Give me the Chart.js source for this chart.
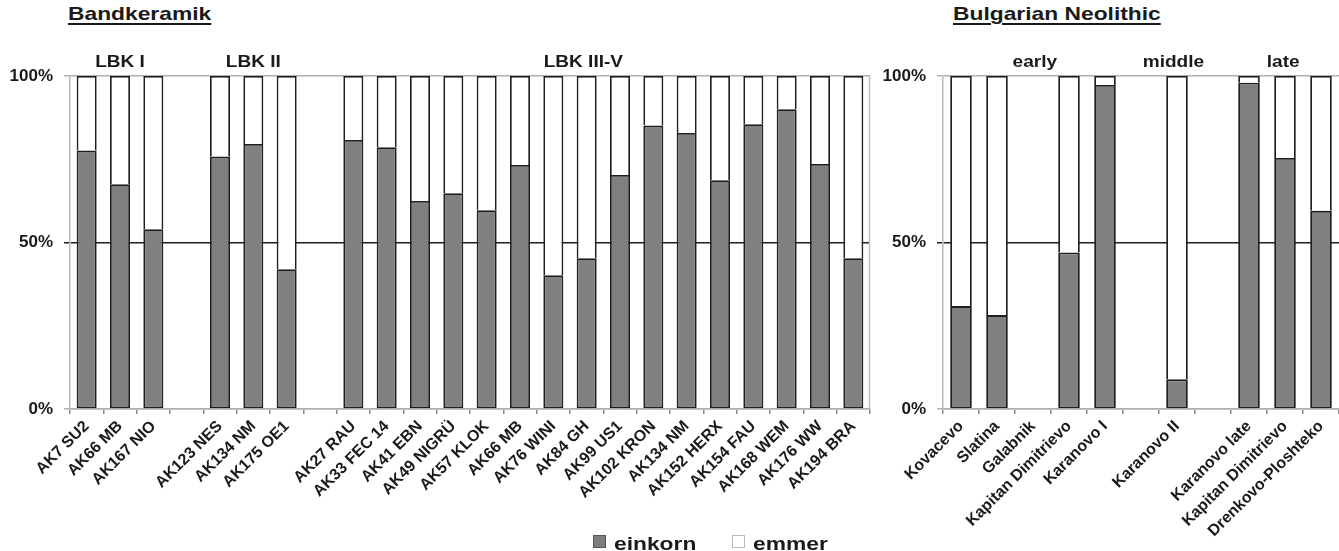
<!DOCTYPE html>
<html>
<head>
<meta charset="utf-8">
<script src="https://cdn.jsdelivr.net/npm/chart.js@4"></script>
<style>
  body { margin: 0; background: #fff; width: 1339px; height: 551px; overflow: hidden; position: relative; font-family: 'Liberation Sans', Arial, sans-serif; color: #1a1a1a; }
  canvas { position: absolute; top: 0; }
  .title { position: absolute; top: 2px; font-size: 19px; font-weight: bold; line-height: 24px; text-decoration: underline; text-decoration-thickness: 2px; text-underline-offset: 3px; transform: scaleX(1.2); transform-origin: left top; white-space: nowrap; }
  .leg { position: absolute; top: 533px; font-size: 19px; font-weight: bold; line-height: 22px; white-space: nowrap; }
  .leg i { position: absolute; left: 0; top: 2px; width: 11px; height: 11px; border: 1px solid #555; }
  .leg span { position: absolute; left: 21px; top: 0; transform: scaleX(1.2); transform-origin: left top; }
</style>
</head>
<body>
<div class="title" style="left:68px">Bandkeramik</div>
<div class="title" style="left:953px">Bulgarian Neolithic</div>
<canvas id="left" width="880" height="551" style="left:0"></canvas>
<canvas id="right" width="459" height="551" style="left:880px"></canvas>
<div class="leg" style="left:593px"><i style="background:#7d7d7d"></i><span>einkorn</span></div>
<div class="leg" style="left:732px"><i style="background:#fff; border-color:#bbb"></i><span>emmer</span></div>
<script>
// Bandkeramik sites
const lbkLabels = ['AK7 SU2', 'AK66 MB', 'AK167 NIO', '', 'AK123 NES', 'AK134 NM', 'AK175 OE1', '',
  'AK27 RAU', 'AK33 FEC 14', 'AK41 EBN', 'AK49 NIGRÜ', 'AK57 KLOK', 'AK66 MB', 'AK76 WINI', 'AK84 GH',
  'AK99 US1', 'AK102 KRON', 'AK134 NM', 'AK152 HERX', 'AK154 FAU', 'AK168 WEM', 'AK176 WW', 'AK194 BRA'];
const lbkEinkorn = [77.6, 67.5, 54, null, 75.8, 79.6, 42, null,
  80.8, 78.6, 62.5, 64.8, 59.7, 73.3, 40.2, 45.3,
  70.3, 85.1, 82.9, 68.7, 85.5, 90, 73.6, 45.3];
const lbkEmmer = [22.4, 32.5, 46, null, 24.2, 20.4, 58, null,
  19.2, 21.4, 37.5, 35.2, 40.3, 26.7, 59.8, 54.7,
  29.7, 14.9, 17.1, 31.3, 14.5, 10, 26.4, 54.7];
const lbkGroups = ['LBK I', 'LBK II', 'LBK III-V'];
const lbkGroupAt = [1, 5, 14.9];   // category index the phase label sits over

// Bulgarian Neolithic sites
const bgLabels = ['Kovacevo', 'Slatina', 'Galabnik', 'Kapitan Dimitrievo', 'Karanovo I', '',
  'Karanovo II', '', 'Karanovo late', 'Kapitan Dimitrievo', 'Drenkovo-Ploshteko'];
const bgEinkorn = [30.9, 28.2, null, 47, 97.3, null, 8.9, null, 98, 75.4, 59.5];
const bgEmmer = [69.1, 71.8, null, 53, 2.7, null, 91.1, null, 2, 24.6, 40.5];
const bgGroups = ['early', 'middle', 'late'];
const bgGroupAt = [2.05, 5.9, 8.95];

const yTicks = [0, 50, 100];
const FONT = "'Liberation Sans', Arial, sans-serif";

// phase labels above the bars + right frame line
const extras = {
  id: 'extras',
  afterDraw(chart, args, opts) {
    const c = chart.ctx, a = chart.chartArea, x = chart.scales.x;
    c.save();
    if (opts.frame) {
      c.strokeStyle = '#bdbdbd';
      c.lineWidth = 1.5;
      c.beginPath();
      c.moveTo(a.right - 0.5, a.top);
      c.lineTo(a.right - 0.5, a.bottom);
      c.stroke();
    }
    c.fillStyle = '#1a1a1a';
    c.font = 'bold 17px ' + FONT;
    c.textAlign = 'center';
    c.textBaseline = 'alphabetic';
    opts.labels.forEach((t, i) => {
      c.save();
      c.translate(x.getPixelForValue(opts.at[i]), a.top - 9);
      c.scale(1.12, 1);
      c.fillText(t, 0, 0);
      c.restore();
    });
    c.restore();
  }
};

function makeChart(id, labels, einkorn, emmer, groups, groupAt, yWidth, padRight, frame) {
  return new Chart(document.getElementById(id).getContext('2d'), {
    type: 'bar',
    data: {
      labels: labels,
      datasets: [{
        label: 'einkorn',
        data: einkorn,
        backgroundColor: '#808080',
        borderColor: '#1e1e1e',
        borderWidth: 1.8,
        borderSkipped: false
      }, {
        label: 'emmer',
        data: emmer,
        backgroundColor: '#ffffff',
        borderColor: '#1e1e1e',
        borderWidth: 1.8,
        borderSkipped: 'start'
      }]
    },
    options: {
      responsive: false,
      animation: false,
      layout: { padding: { top: 76, right: padRight, left: 0, bottom: 0 } },
      datasets: { bar: { categoryPercentage: 1, barPercentage: 0.6 } },
      plugins: {
        legend: { display: false },
        tooltip: { enabled: false },
        extras: { labels: groups, at: groupAt, frame: frame }
      },
      scales: {
        x: {
          stacked: true,
          afterFit: s => { s.height = 142; },
          grid: { offset: true, drawOnChartArea: false, color: '#8a8a8a', tickLength: 5, lineWidth: 1.5 },
          border: { color: '#b0b0b0', width: 1.5 },
          ticks: {
            autoSkip: false, minRotation: 45, maxRotation: 45, padding: 3,
            color: '#1a1a1a', font: { family: FONT, size: 16, weight: 'bold' }
          }
        },
        y: {
          stacked: true,
          min: 0, max: 100,
          afterFit: s => { s.width = yWidth; },
          afterBuildTicks: s => { s.ticks = yTicks.map(v => ({ value: v })); },
          grid: {
            color: ctx => ctx.tick && ctx.tick.value === 50 ? '#1e1e1e' : '#b0b0b0',
            lineWidth: 1.5, tickLength: 6
          },
          border: { color: '#b8b8b8', width: 1.5 },
          ticks: {
            padding: 11, color: '#1a1a1a',
            font: { family: FONT, size: 17, weight: 'bold' },
            callback: v => v + '%'
          }
        }
      }
    },
    plugins: [extras]
  });
}

makeChart('left', lbkLabels, lbkEinkorn, lbkEmmer, lbkGroups, lbkGroupAt, 70, 10, true);
makeChart('right', bgLabels, bgEinkorn, bgEmmer, bgGroups, bgGroupAt, 63, 0, false);
</script>
</body>
</html>
